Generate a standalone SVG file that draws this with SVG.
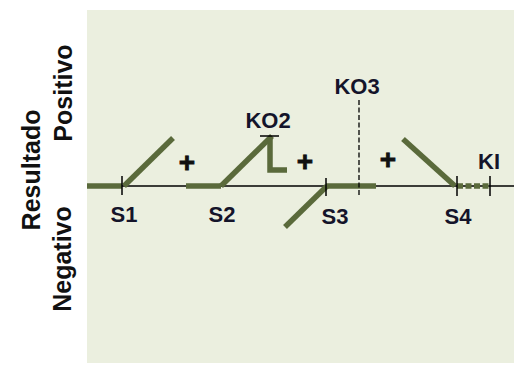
<svg xmlns="http://www.w3.org/2000/svg" width="514" height="365" viewBox="0 0 514 365">
<style>
.lbl{font-family:"Liberation Sans",Arial,sans-serif;font-weight:bold;font-size:22px;fill:#14142a;text-anchor:middle}
.plus{font-family:"Liberation Sans",Arial,sans-serif;font-weight:bold;font-size:28px;fill:#111;stroke:#111;stroke-width:0.8;text-anchor:middle}
.ax{font-family:"Liberation Sans",Arial,sans-serif;font-weight:bold;font-size:25px;fill:#111;text-anchor:middle}
.thick{stroke:#5A6A3B;stroke-width:5.5;fill:none}
.thin{stroke:#000;stroke-width:1.5;fill:none}
.tick{stroke:#000;stroke-width:1.5}
</style>
<rect width="514" height="365" fill="#ffffff"/>
<rect x="87" y="10" width="427" height="353" fill="#EBEFDF"/>
<g id="axis-labels">
<text class="ax" transform="translate(40,170) rotate(-90)">Resultado</text>
<text class="ax" transform="translate(72,93) rotate(-90)">Positivo</text>
<text class="ax" transform="translate(71,259) rotate(-90)">Negativo</text>
</g>
<g id="connectors">
<line class="thin" x1="87" y1="186" x2="514" y2="186"/>
<line class="thick" x1="87" y1="186" x2="122" y2="186"/>
<line class="thick" x1="186" y1="186" x2="221" y2="186"/>
<line class="thick" x1="326" y1="186" x2="376" y2="186"/>
<line class="thick" x1="457" y1="186" x2="490" y2="186" stroke-dasharray="6 2.5"/>
</g>
<g id="S1">
<line class="thick" x1="124" y1="186" x2="173" y2="138"/>
<line class="tick" x1="122" y1="176" x2="122" y2="195"/>
<text class="lbl" x="124" y="222">S1</text>
<text class="plus" x="187" y="172">+</text>
</g>
<g id="S2">
<line class="thick" x1="221" y1="186" x2="272" y2="136"/>
<polyline class="thick" points="270,137 270,170 287,170"/>
<line class="tick" x1="260" y1="136" x2="279" y2="136"/>
<text class="lbl" x="268" y="128">KO2</text>
<text class="lbl" x="222" y="222">S2</text>
<text class="plus" x="305" y="171">+</text>
</g>
<g id="S3">
<line class="thick" x1="327" y1="186" x2="285" y2="227"/>
<line class="tick" x1="326" y1="178" x2="326" y2="196"/>
<text class="lbl" x="335" y="224">S3</text>
</g>
<g id="KO3">
<line x1="359" y1="100" x2="359" y2="197" stroke="#000" stroke-width="1.3" stroke-dasharray="5 2.5"/>
<text class="lbl" x="357" y="94">KO3</text>
<text class="plus" x="388" y="169">+</text>
</g>
<g id="S4">
<line class="thick" x1="403" y1="139" x2="455" y2="186"/>
<line class="tick" x1="457" y1="176" x2="457" y2="196"/>
<text class="lbl" x="458" y="224">S4</text>
</g>
<g id="KI">
<line class="tick" x1="490" y1="176" x2="490" y2="196"/>
<text class="lbl" x="489" y="169">KI</text>
</g>
</svg>
